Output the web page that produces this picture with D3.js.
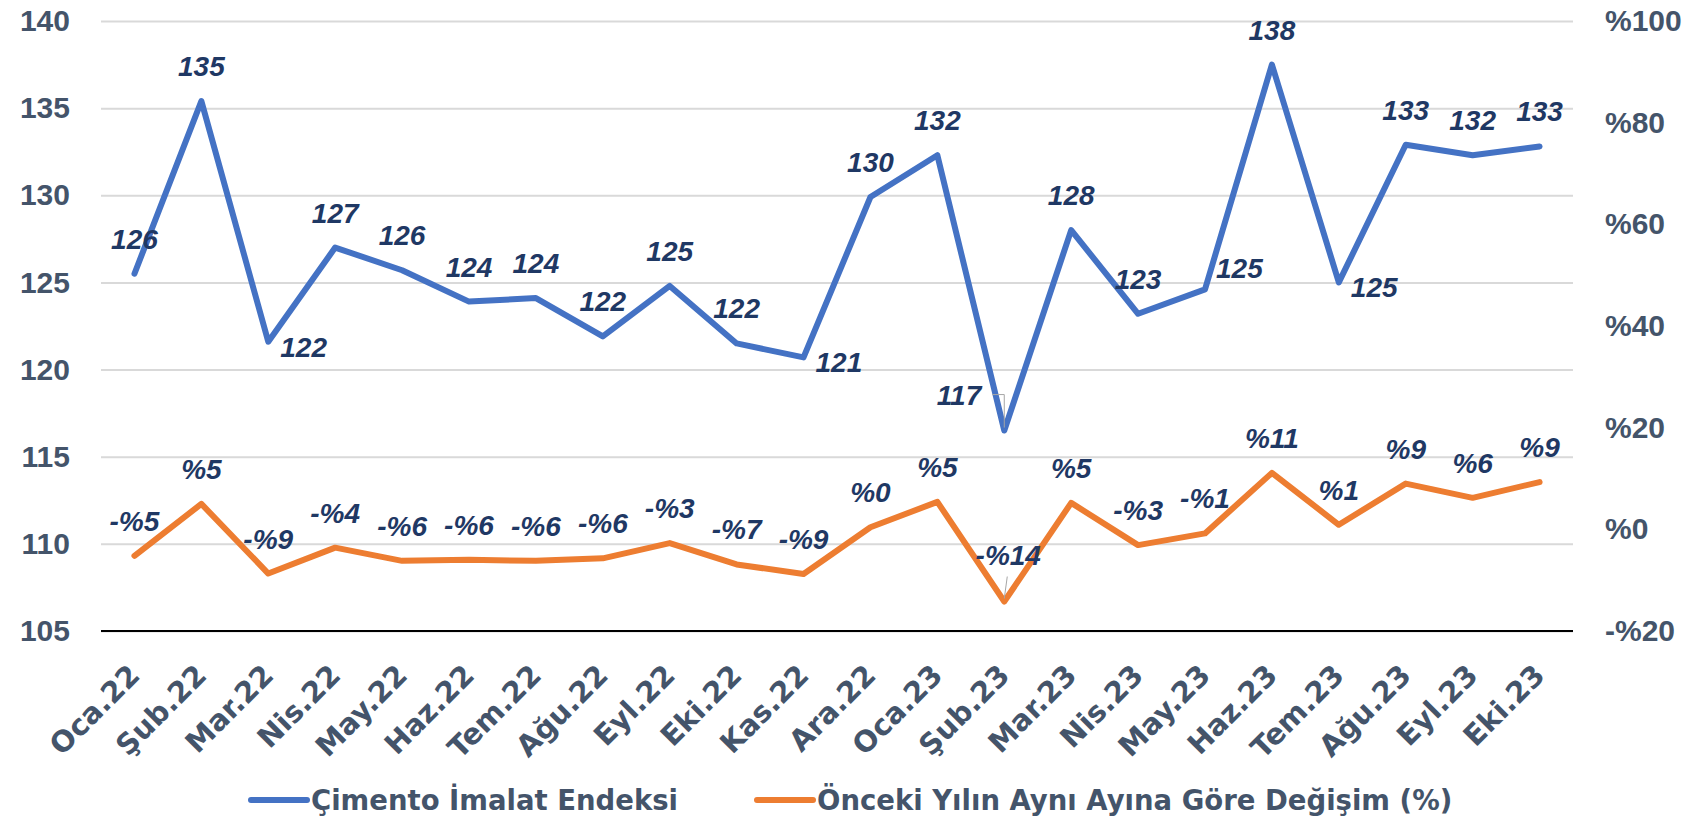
<!DOCTYPE html>
<html>
<head>
<meta charset="utf-8">
<script src="https://cdn.jsdelivr.net/npm/d3@7"></script>
<style>
  body { margin: 0; background: #fff; }
  svg { display: block; }
</style>
</head>
<body>
<svg width="1684" height="822"></svg>
<script>
const months = ['Oca.22', 'Şub.22', 'Mar.22', 'Nis.22', 'May.22', 'Haz.22', 'Tem.22', 'Ağu.22', 'Eyl.22', 'Eki.22', 'Kas.22',
  'Ara.22', 'Oca.23', 'Şub.23', 'Mar.23', 'Nis.23', 'May.23', 'Haz.23', 'Tem.23', 'Ağu.23', 'Eyl.23', 'Eki.23'];
const endeks = [125.5, 135.4, 121.6, 127.0, 125.7, 123.9, 124.1, 121.9, 124.8, 121.5, 120.7,
  129.9, 132.3, 116.5, 128.0, 123.2, 124.6, 137.5, 125.0, 132.9, 132.3, 132.8];
const degisim = [-5.2, 5.0, -8.7, -3.6, -6.2, -6.0, -6.2, -5.7, -2.7, -6.9, -8.8,
  0.4, 5.4, -14.2, 5.2, -3.1, -0.8, 11.1, 0.9, 9.0, 6.2, 9.3];
const leftTicks = [105, 110, 115, 120, 125, 130, 135, 140];
const rightTicks = [-20, 0, 20, 40, 60, 80, 100];
const seriesNames = ['Çimento İmalat Endeksi', 'Önceki Yılın Aynı Ayına Göre Değişim (%)'];

// label placement for blue series (default: above)
const blueRight = [2, 10, 18];

const svg = d3.select('svg');
const mLeft = 101, mRight = 1573, mTop = 21, mBottom = 631;

const x = d3.scaleBand().domain(months).range([mLeft, mRight]);
const cx = (m) => x(m) + x.bandwidth() / 2;
const yL = d3.scaleLinear().domain([105, 140]).range([mBottom, mTop]);
const yR = d3.scaleLinear().domain([-20, 100]).range([mBottom, mTop]);
const pct = (v) => (v < 0 ? '-%' + Math.abs(v) : '%' + v);

const numFont = '"Liberation Sans", Arial, sans-serif';
const txtFont = '"DejaVu Sans", sans-serif';
const tickColor = '#44546a';
const labelColor = '#1f3864';

// gridlines + left axis
const gL = svg.append('g')
  .attr('transform', `translate(${mLeft},0)`)
  .call(d3.axisLeft(yL).tickValues(leftTicks).tickSize(-(mRight - mLeft)).tickPadding(31));
gL.select('.domain').remove();
gL.selectAll('line').attr('stroke', '#d9d9d9').attr('stroke-width', 2);
gL.selectAll('text')
  .attr('fill', tickColor)
  .style('font', `bold 30px ${numFont}`);

// right axis
const gR = svg.append('g')
  .attr('transform', `translate(${mRight},0)`)
  .call(d3.axisRight(yR).tickValues(rightTicks).tickSize(0).tickPadding(32).tickFormat(pct));
gR.select('.domain').remove();
gR.selectAll('text')
  .attr('fill', tickColor)
  .style('font', `bold 30px ${numFont}`);

// baseline
svg.append('line')
  .attr('x1', mLeft).attr('x2', mRight)
  .attr('y1', mBottom).attr('y2', mBottom)
  .attr('stroke', '#000').attr('stroke-width', 2);

// x labels
svg.append('g').selectAll('text')
  .data(months)
  .join('text')
  .attr('transform', (d) => `translate(${cx(d) + 7},${mBottom + 46}) rotate(-45)`)
  .attr('text-anchor', 'end')
  .attr('fill', tickColor)
  .style('font', `bold 29px ${txtFont}`)
  .text((d) => d);

// lines
const lineL = d3.line().x((d, i) => cx(months[i])).y((d) => yL(d));
const lineR = d3.line().x((d, i) => cx(months[i])).y((d) => yR(d));

svg.append('path')
  .datum(endeks)
  .attr('d', lineL)
  .attr('fill', 'none')
  .attr('stroke', '#4472c4')
  .attr('stroke-width', 6)
  .attr('stroke-linejoin', 'round')
  .attr('stroke-linecap', 'round');

svg.append('path')
  .datum(degisim)
  .attr('d', lineR)
  .attr('fill', 'none')
  .attr('stroke', '#ed7d31')
  .attr('stroke-width', 6)
  .attr('stroke-linejoin', 'round')
  .attr('stroke-linecap', 'round');

// leader lines for moved labels (Şub.23)
const sub23 = 13;
svg.append('path')
  .attr('d', `M${cx(months[sub23]) - 12},${yL(endeks[sub23]) - 36}H${cx(months[sub23])}V${yL(endeks[sub23]) - 3}`)
  .attr('fill', 'none').attr('stroke', '#a6a6a6').attr('stroke-width', 1);
svg.append('line')
  .attr('x1', cx(months[sub23]) + 3).attr('y1', yR(degisim[sub23]) - 25)
  .attr('x2', cx(months[sub23])).attr('y2', yR(degisim[sub23]) - 3)
  .attr('stroke', '#a6a6a6').attr('stroke-width', 1);

// blue labels
svg.append('g').selectAll('text')
  .data(endeks)
  .join('text')
  .attr('x', (d, i) => {
    const px = cx(months[i]);
    if (blueRight.includes(i)) return px + 12;
    if (i === 16) return px + 11;
    if (i === 13) return px - 23;
    return px;
  })
  .attr('y', (d, i) => {
    const py = yL(d);
    if (blueRight.includes(i)) return py + 15;
    if (i === 16) return py - 11;
    if (i === 13) return py - 26;
    return py - 25;
  })
  .attr('text-anchor', (d, i) => (blueRight.includes(i) || i === 16 ? 'start' : i === 13 ? 'end' : 'middle'))
  .attr('fill', labelColor)
  .style('font', `italic bold 28px ${numFont}`)
  .text((d) => Math.round(d));

// orange labels
svg.append('g').selectAll('text')
  .data(degisim)
  .join('text')
  .attr('x', (d, i) => cx(months[i]) + (i === sub23 ? 4 : 0))
  .attr('y', (d, i) => yR(d) - (i === sub23 ? 37 : 25))
  .attr('text-anchor', 'middle')
  .attr('fill', labelColor)
  .style('font', `italic bold 28px ${numFont}`)
  .text((d) => pct(Math.abs(Math.round(d)) === 0 ? 0 : Math.round(d)));

// legend
const legend = svg.append('g');
const legendItems = [
  { name: seriesNames[0], color: '#4472c4', x: 251 },
  { name: seriesNames[1], color: '#ed7d31', x: 757 },
];
legendItems.forEach((it) => {
  legend.append('line')
    .attr('x1', it.x).attr('x2', it.x + 56)
    .attr('y1', 800).attr('y2', 800)
    .attr('stroke', it.color).attr('stroke-width', 6)
    .attr('stroke-linecap', 'round');
  legend.append('text')
    .attr('x', it.x + 60).attr('y', 810)
    .attr('fill', tickColor)
    .style('font', `bold 27.5px ${txtFont}`)
    .text(it.name);
});
</script>
</body>
</html>
